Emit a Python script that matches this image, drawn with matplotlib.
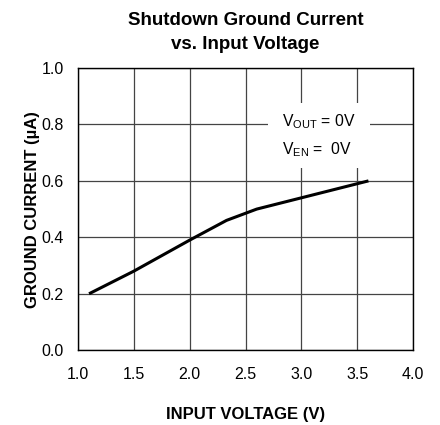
import matplotlib.pyplot as plt
from matplotlib.patches import Rectangle

plt.rcParams['font.family'] = ['Liberation Sans', 'DejaVu Sans']

# Curve
vin = [1.1, 1.5, 2.0, 2.33, 2.6, 3.0, 3.6]
i_gnd = [0.20, 0.28, 0.39, 0.46, 0.50, 0.54, 0.60]

xticks = [1.0, 1.5, 2.0, 2.5, 3.0, 3.5, 4.0]
yticks = [0.0, 0.2, 0.4, 0.6, 0.8, 1.0]

fig = plt.figure(figsize=(4.4, 4.25), dpi=100)
ax = fig.add_axes([0.177, 0.176, 0.762, 0.664])

ax.plot(vin, i_gnd, color='black', lw=2.2, solid_capstyle='butt', zorder=3)

ax.set_xlim(1.0, 4.0)
ax.set_ylim(0.0, 1.0)
ax.set_xticks(xticks)
ax.set_yticks(yticks)
ax.set_xticklabels(['%.1f' % t for t in xticks])
ax.set_yticklabels(['%.1f' % t for t in yticks])
ax.tick_params(length=0, labelsize=11.5)
ax.tick_params(axis='x', pad=12)
ax.tick_params(axis='y', pad=10)
ax.grid(True, color='#444444', lw=0.9)
for s in ax.spines.values():
    s.set_linewidth(1.0)
    s.set_color('black')

ax.set_xlabel('INPUT VOLTAGE (V)', fontsize=12, fontweight='bold', labelpad=18)
ax.set_ylabel('GROUND CURRENT (µA)', fontsize=12, fontweight='bold', labelpad=1)
ax.set_title('Shutdown Ground Current\nvs. Input Voltage', fontsize=13.5, fontweight='bold',
             pad=14, linespacing=1.52)

# white legend box knocking out the grid
ax.add_patch(Rectangle((2.70, 0.645), 0.91, 0.23, facecolor='white', edgecolor='none', zorder=2.5))
ax.text(2.826, 0.81, r'V$_{\mathregular{OUT}}$ = 0V', fontsize=11.3, va='center', ha='left', zorder=4)
ax.text(2.826, 0.709, r'V$_{\mathregular{EN}}$ =  0V', fontsize=11.3, va='center', ha='left', zorder=4)

fig.savefig('out.png', dpi=100)
